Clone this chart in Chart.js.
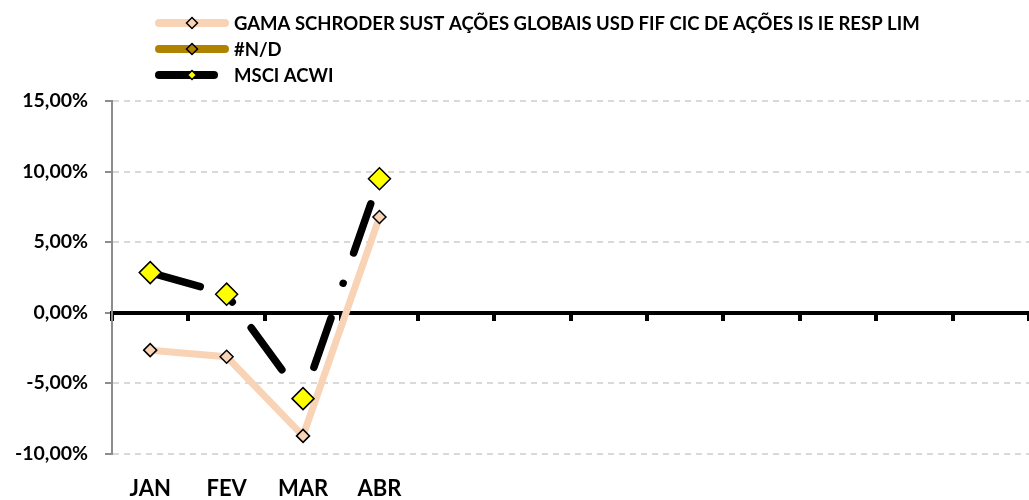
<!DOCTYPE html>
<html>
<head>
<meta charset="utf-8">
<script src="https://cdn.jsdelivr.net/npm/chart.js@4.4.1/dist/chart.umd.min.js"></script>
<style>
  html, body { margin: 0; padding: 0; background: #fff; overflow: hidden; }
  #wrap { width: 1029px; height: 500px; position: relative; }
</style>
</head>
<body>
<div id="wrap"><canvas id="chart"></canvas></div>
<script>
// dados (rentabilidade mensal, %)
const months = ["JAN", "FEV", "MAR", "ABR", "", "", "", "", "", "", "", ""];
const seriesNames = [
  "GAMA SCHRODER SUST AÇÕES GLOBAIS USD FIF CIC DE AÇÕES IS IE RESP LIM",
  "#N/D",
  "MSCI ACWI"
];
const gamaValues = [-2.67, -3.14, -8.75, 6.77];
const ndValues = [];
const msciValues = [2.83, 1.30, -6.11, 9.49];
const yTicks = [-10, -5, 0, 5, 10, 15];

const PEACH = "#F9D3B6";
const GOLD = "#AF8300";

Chart.defaults.font.family = "Lato, 'Open Sans', sans-serif";
Chart.defaults.font.weight = "bold";
Chart.defaults.color = "#000";

function fmtPct(v) {
  return v.toFixed(2).replace(".", ",") + "%";
}

function diamond(ctx, x, y, r, fill, stroke, lw) {
  ctx.beginPath();
  ctx.moveTo(x, y - r);
  ctx.lineTo(x + r, y);
  ctx.lineTo(x, y + r);
  ctx.lineTo(x - r, y);
  ctx.closePath();
  ctx.fillStyle = fill;
  ctx.fill();
  ctx.lineWidth = lw;
  ctx.strokeStyle = stroke;
  ctx.stroke();
}

// sem folga lateral: a área do gráfico vai até a borda direita
function noSidePadding(s) {
  s.paddingLeft = 0;
  s.paddingRight = 0;
}

// legenda no estilo do Excel (linha + marcador)
const legendRows = [
  { y: 23, x1: 159, x2: 225, r: 5.5 },
  { y: 49, x1: 159, x2: 225, r: 5.5 },
  { y: 75, x1: 159, x2: 214, r: 4.5 }
];
const excelLegend = {
  id: "excelLegend",
  afterDraw(chart) {
    const ctx = chart.ctx;
    ctx.save();
    chart.data.datasets.forEach((ds, i) => {
      const row = legendRows[i];
      ctx.beginPath();
      ctx.moveTo(row.x1, row.y);
      ctx.lineTo(row.x2, row.y);
      ctx.lineWidth = 8;
      ctx.lineCap = "round";
      ctx.strokeStyle = ds.borderColor;
      ctx.stroke();
      diamond(ctx, 192, row.y, row.r, ds.pointBackgroundColor, "#000", 1.5);
      ctx.font = "bold 18.5px Lato";
      ctx.textBaseline = "middle";
      ctx.fillStyle = "#000";
      ctx.fillText(ds.label, 234, row.y + 1);
    });
    ctx.restore();
  }
};

new Chart(document.getElementById("chart"), {
  type: "line",
  data: {
    labels: months,
    datasets: [
      {
        label: seriesNames[0],
        data: gamaValues,
        order: 2,
        borderColor: PEACH,
        borderWidth: 7,
        borderJoinStyle: "round",
        borderCapStyle: "round",
        pointStyle: "rectRot",
        pointRadius: 6.5,
        pointBackgroundColor: PEACH,
        pointBorderColor: "#000",
        pointBorderWidth: 1.5
      },
      {
        label: seriesNames[1],
        data: ndValues,
        order: 1,
        borderColor: GOLD,
        borderWidth: 7,
        pointStyle: "rectRot",
        pointRadius: 6.5,
        pointBackgroundColor: GOLD,
        pointBorderColor: "#000",
        pointBorderWidth: 1.5
      },
      {
        label: seriesNames[2],
        data: msciValues,
        order: 0,
        borderColor: "#000",
        borderWidth: 7.5,
        // traço longo + ponto, como no Excel
        borderDash: [52, 37, 0.01, 32],
        borderCapStyle: "round",
        borderJoinStyle: "round",
        pointStyle: "rectRot",
        pointRadius: 11,
        pointBackgroundColor: "#FFFF00",
        pointBorderColor: "#000",
        pointBorderWidth: 1.5
      }
    ]
  },
  options: {
    responsive: true,
    maintainAspectRatio: false,
    animation: false,
    layout: { autoPadding: false, padding: { top: 101, right: 0, left: 0, bottom: 0 } },
    plugins: {
      legend: { display: false },
      tooltip: { enabled: false }
    },
    scales: {
      x: {
        offset: true,
        grid: { display: false },
        border: { display: false },
        ticks: {
          padding: 14,
          autoSkip: false,
          maxRotation: 0,
          font: { size: 22, weight: "bold" }
        },
        afterFit: (s) => { s.height = 46.5; noSidePadding(s); }
      },
      x2: {
        type: "category",
        axis: "x",
        position: { y: 0 },
        offset: true,
        grid: { drawOnChartArea: false, color: "#000", lineWidth: 4, tickLength: 6, offset: true },
        border: { color: "#000", width: 4 },
        ticks: { display: false },
        afterFit: noSidePadding
      },
      y: {
        min: -10,
        max: 15,
        afterBuildTicks: (s) => { s.ticks = yTicks.map((v) => ({ value: v })); },
        afterFit: (s) => { s.width = 112; },
        border: { color: "#8c8c8c", width: 2, dash: [6, 5] },
        grid: {
          color: (c) => (c.tick && c.tick.value === 0 ? "rgba(0,0,0,0)" : "#d9d9d9"),
          lineWidth: 2,
          tickLength: 7,
          tickColor: "#8c8c8c",
          tickWidth: 2
        },
        ticks: {
          padding: 17,
          font: { size: 19.5, weight: "bold" },
          callback: (v) => fmtPct(v)
        }
      }
    }
  },
  plugins: [excelLegend]
});
</script>
</body>
</html>
